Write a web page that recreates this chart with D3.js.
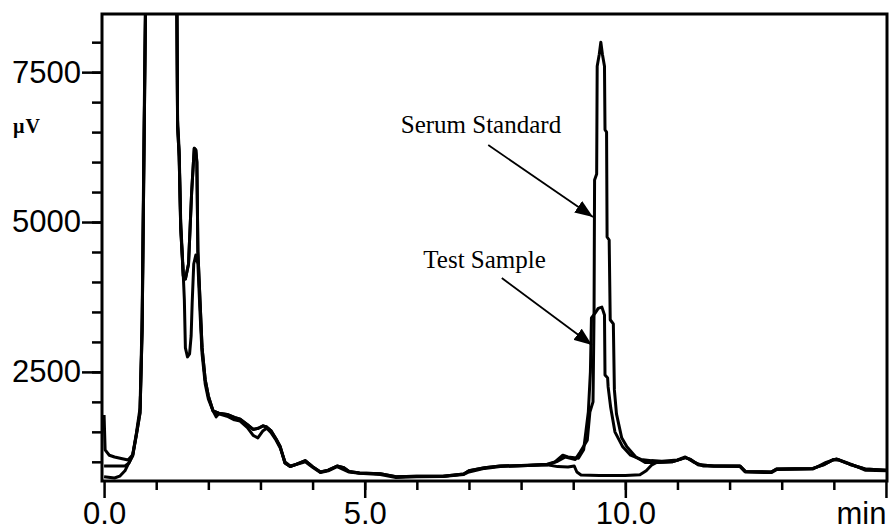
<!DOCTYPE html>
<html>
<head>
<meta charset="utf-8">
<script src="https://cdn.jsdelivr.net/npm/d3@7"></script>
<style>
body { margin: 0; background: #fff; }
</style>
</head>
<body>
<script>
var width = 893,
    height = 531;

// chromatogram traces, [time (min), signal (µV)]
var serumStandard = [
  [0.00, 1780], [0.02, 1200], [0.10, 1110], [0.20, 1080], [0.35, 1050], [0.46, 1030],
  [0.55, 1120], [0.62, 1450], [0.69, 1820], [0.73, 3200], [0.77, 6500], [0.81, 9800],
  [1.00, 12000], [1.30, 11500], [1.39, 9500], [1.41, 6600], [1.44, 6100], [1.47, 4900],
  [1.52, 4100], [1.56, 4050], [1.62, 4300], [1.68, 5500], [1.73, 6230], [1.76, 6200],
  [1.78, 6000], [1.80, 4500], [1.84, 3700], [1.88, 2900], [1.94, 2370], [2.00, 2100],
  [2.09, 1850], [2.20, 1810], [2.36, 1790], [2.50, 1740], [2.61, 1710], [2.75, 1620],
  [2.86, 1540], [2.96, 1560], [3.05, 1600], [3.12, 1580], [3.20, 1520], [3.30, 1380],
  [3.38, 1250], [3.47, 980], [3.57, 920], [3.66, 950], [3.86, 1020], [4.00, 920],
  [4.15, 830], [4.30, 860], [4.47, 930], [4.60, 900], [4.70, 840], [4.90, 815],
  [5.30, 800], [5.50, 770], [5.60, 750], [6.00, 760], [6.50, 760], [6.90, 795],
  [7.00, 850], [7.30, 900], [7.60, 930], [8.00, 935], [8.50, 950], [8.70, 1010],
  [8.85, 1080], [9.04, 1040], [9.13, 1160], [9.27, 1360], [9.32, 1830], [9.38, 2000],
  [9.40, 3500], [9.41, 5700], [9.45, 5800], [9.46, 7600], [9.50, 7800], [9.53, 8000],
  [9.56, 7800], [9.60, 7600], [9.61, 6540], [9.64, 6500], [9.65, 4750], [9.69, 4700],
  [9.71, 3370], [9.77, 3300], [9.79, 2200], [9.83, 1800], [9.93, 1400], [10.03, 1250],
  [10.20, 1080], [10.38, 990], [10.60, 990], [10.90, 1000], [11.05, 1040], [11.15, 1070],
  [11.25, 1040], [11.40, 950], [11.70, 930], [12.20, 930], [12.30, 840], [12.80, 830],
  [12.90, 880], [13.60, 890], [13.80, 950], [14.00, 1040], [14.10, 1030], [14.30, 960],
  [14.60, 880], [15.02, 860]
];

var testSample = [
  [0.00, 930], [0.40, 930], [0.48, 980], [0.55, 1120], [0.62, 1480], [0.69, 1900],
  [0.73, 3400], [0.77, 6800], [0.81, 9900], [1.00, 12000], [1.30, 11500], [1.39, 9500],
  [1.41, 6700], [1.44, 6200], [1.47, 5000], [1.51, 4300], [1.54, 3700], [1.56, 2900],
  [1.60, 2750], [1.64, 2800], [1.67, 3100], [1.69, 3650], [1.72, 4300], [1.76, 4450],
  [1.80, 4300], [1.84, 3500], [1.88, 2800], [1.94, 2300], [2.00, 2050], [2.09, 1850],
  [2.15, 1750], [2.20, 1800], [2.36, 1760], [2.50, 1700], [2.61, 1680], [2.75, 1570],
  [2.86, 1440], [2.95, 1400], [3.05, 1520], [3.12, 1560], [3.20, 1490], [3.30, 1360],
  [3.38, 1230], [3.47, 1000], [3.57, 930], [3.70, 960], [3.86, 1000], [4.00, 910],
  [4.15, 820], [4.30, 850], [4.47, 920], [4.70, 830], [4.90, 810], [5.30, 790],
  [5.60, 740], [6.00, 750], [6.50, 755], [6.90, 790], [7.00, 830], [7.30, 890],
  [7.60, 920], [8.00, 940], [8.50, 960], [8.65, 1000], [8.80, 1110], [8.90, 1080],
  [9.10, 1060], [9.20, 1200], [9.29, 1830], [9.33, 2500], [9.35, 3400], [9.42, 3480],
  [9.48, 3560], [9.55, 3580], [9.60, 3450], [9.61, 2450], [9.66, 2400], [9.67, 2250],
  [9.72, 1900], [9.80, 1500], [9.95, 1250], [10.10, 1110], [10.30, 1040], [10.50, 1020],
  [10.70, 1010], [11.00, 1030], [11.15, 1080], [11.30, 1000], [11.50, 930], [12.20, 920],
  [12.30, 830], [12.80, 820], [12.90, 870], [13.60, 880], [13.85, 990], [14.05, 1050],
  [14.30, 970], [14.50, 900], [14.60, 860], [15.02, 850]
];

// third (unlabelled) trace: own start and no peak near 9.5 min
var blankStart = [
  [0.00, 750], [0.20, 730], [0.30, 760], [0.40, 850], [0.48, 990], [0.55, 1100]
];
var blankDip = [
  [8.70, 920], [8.90, 915], [9.02, 930], [9.07, 830], [9.15, 780], [9.50, 772],
  [10.00, 772], [10.28, 785], [10.40, 850], [10.51, 950]
];

var yMajor = [2500, 5000, 7500];
var xMajor = [0, 5, 10, 15];

var labels = [
  { text: "Serum Standard", t: 7.23, v: 6485, from: [7.37, 6284], to: [9.38, 5083] },
  { text: "Test Sample", t: 7.30, v: 4233, from: [7.63, 4066], to: [9.36, 2948] }
];

var svg = d3.select("body")
  .append("svg")
  .attr("width", width)
  .attr("height", height);

var x = d3.scaleLinear().domain([-0.04, 15.02]).range([102, 887]);
var y = d3.scaleLinear().domain([680, 8470]).range([481, 14]);

var blank = blankStart
  .concat(serumStandard.filter(function(d) { return d[0] > 0.6 && d[0] < 8.6; }))
  .concat(blankDip)
  .concat(serumStandard.filter(function(d) { return d[0] > 10.55; }));

svg.append("clipPath")
  .attr("id", "plotclip")
  .append("rect")
  .attr("x", 102).attr("y", 14)
  .attr("width", 785).attr("height", 467);

var line = d3.line()
  .x(function(d) { return x(d[0]); })
  .y(function(d) { return y(d[1]); });

var traces = svg.append("g").attr("clip-path", "url(#plotclip)");
traces.selectAll("path")
  .data([blank, testSample, serumStandard])
  .enter()
  .append("path")
  .attr("d", line)
  .attr("fill", "none")
  .attr("stroke", "#000")
  .attr("stroke-width", 3)
  .attr("stroke-linejoin", "round");

// axes
function styleAxis(g) {
  g.select(".domain").remove();
  g.selectAll("line").attr("stroke", "#000").attr("stroke-width", 2.5);
  g.attr("font-family", "'Liberation Sans', Arial, sans-serif")
    .attr("font-size", 31);
  g.selectAll("text").attr("fill", "#000");
}

svg.append("g")
  .attr("transform", "translate(102,0)")
  .call(d3.axisLeft(y).tickValues(d3.range(1000, 8001, 500)).tickSize(10).tickFormat(""))
  .call(styleAxis);

svg.append("g")
  .attr("transform", "translate(102,0)")
  .call(d3.axisLeft(y).tickValues(yMajor).tickSize(20).tickPadding(1).tickFormat(d3.format("d")))
  .call(styleAxis);

svg.append("g")
  .attr("transform", "translate(0,481)")
  .call(d3.axisBottom(x).tickValues(d3.range(1, 15)).tickSize(9).tickFormat(""))
  .call(styleAxis);

var xAx = svg.append("g")
  .attr("transform", "translate(0,481)")
  .call(d3.axisBottom(x).tickValues(xMajor).tickSize(17).tickPadding(4)
    .tickFormat(function(d) { return d === 15 ? "min" : d.toFixed(1); }))
  .call(styleAxis);
xAx.selectAll("text")
  .filter(function(d) { return d === 15; })
  .attr("text-anchor", "end");

// frame
svg.append("rect")
  .attr("x", 102).attr("y", 14)
  .attr("width", 785).attr("height", 467)
  .attr("fill", "none")
  .attr("stroke", "#000")
  .attr("stroke-width", 3);

svg.append("text")
  .attr("x", 13)
  .attr("y", 133)
  .attr("font-family", "'Liberation Serif', 'Times New Roman', serif")
  .attr("font-weight", "bold")
  .attr("font-size", 20)
  .attr("letter-spacing", 1)
  .text("µV");

// annotations
svg.append("defs").append("marker")
  .attr("id", "arrow")
  .attr("viewBox", "0 0 18 14")
  .attr("refX", 18).attr("refY", 7)
  .attr("markerWidth", 18).attr("markerHeight", 14)
  .attr("markerUnits", "userSpaceOnUse")
  .attr("orient", "auto")
  .append("path")
  .attr("d", "M0,0L18,7L0,14z")
  .attr("fill", "#000");

var notes = svg.append("g");
notes.selectAll("line")
  .data(labels)
  .enter()
  .append("line")
  .attr("x1", function(d) { return x(d.from[0]); })
  .attr("y1", function(d) { return y(d.from[1]); })
  .attr("x2", function(d) { return x(d.to[0]); })
  .attr("y2", function(d) { return y(d.to[1]); })
  .attr("stroke", "#000")
  .attr("stroke-width", 1.8)
  .attr("marker-end", "url(#arrow)");

notes.selectAll("text")
  .data(labels)
  .enter()
  .append("text")
  .attr("x", function(d) { return x(d.t); })
  .attr("y", function(d) { return y(d.v); })
  .attr("text-anchor", "middle")
  .attr("font-family", "'Liberation Serif', 'Times New Roman', serif")
  .attr("font-size", 25)
  .text(function(d) { return d.text; });
</script>
</body>
</html>
